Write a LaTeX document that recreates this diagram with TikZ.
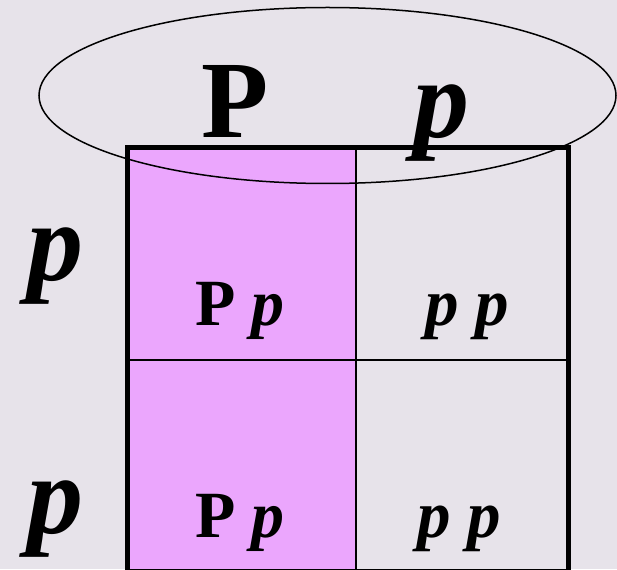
\documentclass[tikz,border=0pt]{standalone}
\usepackage{fontspec}
\setmainfont{Liberation Serif}
\definecolor{bgc}{RGB}{231,227,234}
\definecolor{pinkc}{RGB}{235,166,253}
\tikzset{
  big/.style={inner sep=0pt, anchor=base, font=\fontsize{110}{110}\selectfont\bfseries},
  bigit/.style={big, font=\fontsize{112}{112}\selectfont\bfseries\itshape},
  cell/.style={inner sep=0pt, anchor=base, font=\fontsize{66}{66}\selectfont\bfseries},
  cellit/.style={cell, font=\fontsize{67}{67}\selectfont\bfseries\itshape},
  thickline/.style={line width=5pt, line join=miter},
  thinline/.style={line width=2pt},
}
\begin{document}
\begin{tikzpicture}[x=1pt,y=-1pt]
\fill[bgc] (0,0) rectangle (617,569);
\useasboundingbox (0,0) rectangle (617,569);
\fill[pinkc] (127.5,147.5) rectangle (356,575);
\draw[thinline] (356,147.5) -- (356,575);
\draw[thinline] (127.5,360) -- (568.5,360);
\draw[thickline] (127.5,575) -- (127.5,147.5) -- (568.5,147.5) -- (568.5,575);
\draw[line width=1pt] (127.5,569) -- (568.5,569);
\node[big] (topP) at (235,138) {P};
\node[bigit] (topp) at (441,138) {p};
\node[bigit] (leftp1) at (55,280) {p};
\node[bigit] (leftp2) at (55,533) {p};
\node[cell] (c11) at (240,325) {P \textit{p}};
\node[cellit] (c12) at (467,325) {p p};
\node[cell] (c21) at (240,537) {P \textit{p}};
\node[cellit] (c22) at (459,537) {p p};
\draw[line width=1.5pt] (327.5,95.5) ellipse [x radius=288.5, y radius=88];
\end{tikzpicture}
\end{document}
